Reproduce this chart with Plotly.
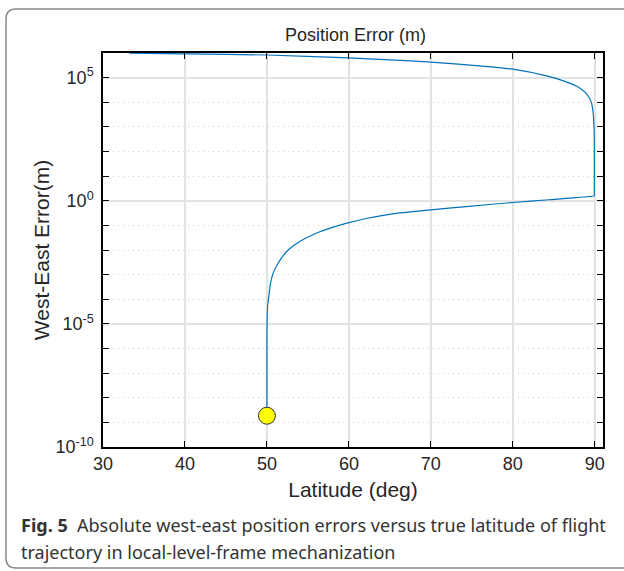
import plotly.graph_objects as go

# ---- data ----
latitude_deg = [50.0, 50.0, 50.01, 50.05, 50.1, 50.23, 50.44, 50.76, 51.36, 52.38, 54.0, 56.0, 58.0,
                60.0, 62.1, 64.0, 66.2, 70.0, 74.3, 80.0, 84.4, 89.94,
                89.94, 89.94, 89.9, 89.8, 89.6, 89.1, 88.07, 86.45, 84.0, 80.0, 75.9, 70.0, 65.0,
                60.0, 50.0, 40.0, 33.2]
west_east_error_m = [1.86e-9, 1e-6, 1e-5, 3.2e-5, 6.3e-5, 1.29e-4, 4.5e-4, 1.15e-3, 2.9e-3, 8.5e-3, 0.022, 0.048, 0.083,
                     0.129, 0.19, 0.25, 0.32, 0.43, 0.58, 0.85, 1.1, 1.58,
                     1.6, 300, 1050, 3600, 9300, 2.0e4, 4.0e4, 6.9e4, 1.2e5, 2.2e5, 3.0e5, 4.27e5, 5.25e5,
                     6.3e5, 8.3e5, 9.3e5, 9.8e5]
start_lat = [50.0]
start_err = [1.86e-9]

x_ticks = [30, 40, 50, 60, 70, 80, 90]
y_major = [1e-10, 1e-5, 1e0, 1e5]
y_major_text = ["10<sup>-10</sup>", "10<sup>-5</sup>", "10<sup>0</sup>", "10<sup>5</sup>"]
y_minor = [10.0 ** k for k in range(-10, 7)]

title_text = "Position Error (m)"
x_title = "Latitude (deg)"
y_title = "West-East Error(m)"
caption_1 = "<b>Fig. 5</b>  Absolute west-east position errors versus true latitude of flight"
caption_2 = "trajectory in local-level-frame mechanization"

# ---- layout geometry (pixels) ----
W, H = 624, 571
L, R, T, B = 103, 21, 53, 124
pw, ph = W - L - R, H - T - B


def px(x):
    return (x - L) / pw


def py(y):
    return (H - B - y) / ph


AX_FONT = "Liberation Sans, Arial, Helvetica, sans-serif"
TXT = "#262626"
GRID = "#e3e3e3"

fig = go.Figure()
fig.add_trace(go.Scatter(x=latitude_deg, y=west_east_error_m, mode="lines",
                         line=dict(color="#0072BD", width=1.2, shape="spline", smoothing=0.6),
                         showlegend=False, hoverinfo="skip"))
fig.add_trace(go.Scatter(x=start_lat, y=start_err, mode="markers",
                         marker=dict(color="#FFFF00", size=17,
                                     line=dict(color="#333333", width=1)),
                         showlegend=False, hoverinfo="skip"))

fig.update_layout(
    width=W, height=H,
    margin=dict(l=L, r=R, t=T, b=B, pad=0),
    paper_bgcolor="white", plot_bgcolor="white",
    font=dict(family=AX_FONT, color=TXT),
    xaxis=dict(range=[30, 91], tickmode="array", tickvals=x_ticks,
               ticks="inside", ticklen=6, tickcolor="black", tickwidth=1,
               showline=True, linecolor="black", linewidth=1.5, mirror="ticks",
               showgrid=True, gridcolor=GRID, gridwidth=1.5, zeroline=False,
               tickfont=dict(size=18, color=TXT),
               title=dict(text=x_title, font=dict(size=21, color=TXT), standoff=9)),
    yaxis=dict(type="log", range=[-10, 6], tickmode="array", tickvals=y_major,
               ticktext=y_major_text,
               ticks="inside", ticklen=6, tickcolor="black", tickwidth=1,
               showline=True, linecolor="black", linewidth=1.5, mirror="ticks",
               showgrid=True, gridcolor=GRID, gridwidth=1.5, zeroline=False,
               tickfont=dict(size=18, color=TXT), ticklabelstandoff=4,
               minor=dict(tickmode="array", tickvals=y_minor, ticks="inside", ticklen=6,
                          tickcolor="black", showgrid=True, gridcolor="#cfcfcf",
                          griddash="1px,4px", gridwidth=1),
               title=dict(text=y_title, font=dict(size=21, color=TXT), standoff=0)),
)

annotations = [
    dict(text=title_text, x=px(355), y=py(35), xref="paper", yref="paper",
         showarrow=False, xanchor="center", yanchor="middle",
         font=dict(size=18, color=TXT, family=AX_FONT)),
    dict(text=caption_1, x=px(19), y=py(525), xref="paper", yref="paper",
         showarrow=False, xanchor="left", yanchor="middle",
         font=dict(size=18, color="#333333", family="Noto Sans, Open Sans, sans-serif")),
    dict(text=caption_2, x=px(19), y=py(552), xref="paper", yref="paper",
         showarrow=False, xanchor="left", yanchor="middle",
         font=dict(size=18, color="#333333", family="Noto Sans, Open Sans, sans-serif")),
]
fig.update_layout(annotations=annotations)

# rounded frame around the figure
r = 10
x0, y0, x1, y1 = 6, 9, 640, 568
path = (f"M {px(x1)},{py(y0)} L {px(x0 + r)},{py(y0)} "
        f"Q {px(x0)},{py(y0)} {px(x0)},{py(y0 + r)} "
        f"L {px(x0)},{py(y1 - r)} "
        f"Q {px(x0)},{py(y1)} {px(x0 + r)},{py(y1)} "
        f"L {px(x1)},{py(y1)}")
fig.add_shape(type="path", path=path, xref="paper", yref="paper",
              line=dict(color="#8a8a8a", width=1.5), layer="above")

fig.write_html("out.html")
